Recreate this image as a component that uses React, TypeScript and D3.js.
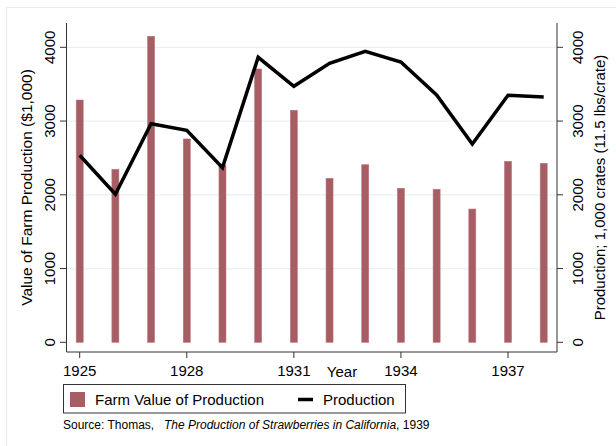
import React from "react";
import * as d3 from "d3";

const years = [1925, 1926, 1927, 1928, 1929, 1930, 1931, 1932, 1933, 1934, 1935, 1936, 1937, 1938];
const farmValue = [3285, 2346, 4149, 2757, 2404, 3706, 3146, 2224, 2408, 2088, 2075, 1807, 2454, 2427];
const production = [2536, 2007, 2964, 2875, 2368, 3864, 3471, 3783, 3946, 3800, 3353, 2689, 3349, 3326];
const yTicks = [0, 1000, 2000, 3000, 4000];
const xTicks = [1925, 1928, 1931, 1934, 1937];

const W = 616;
const H = 446;
const FONT = "Liberation Sans, Arial, sans-serif";
const BAR = "#a65d63";
const FS = 15;

export default function App() {
  const plotL = 66.5, plotR = 557, plotT = 23, plotB = 352;
  const x = d3.scaleLinear().domain([1925, 1938]).range([79.7, 543.7]);
  const y = d3.scaleLinear().domain([0, 4000]).range([342.3, 47.3]);
  const line = d3
    .line<number>()
    .x((_, i) => x(years[i]))
    .y((d) => y(d));
  const barW = 7;
  const midY = (plotT + plotB) / 2;

  return (
    <svg width={W} height={H} style={{ position: "absolute", left: 0, top: 0, background: "#fff" }} fontFamily={FONT}>
      <rect x={0} y={0} width={W} height={H} fill="#fff" />
      <rect x={6.5} y={7.5} width={W + 20} height={H + 20} fill="#fff" stroke="#e6ecee" strokeWidth={1} />
      {yTicks.filter((t) => t > 0).map((t) => (
        <line key={"g" + t} x1={plotL} x2={plotR} y1={y(t)} y2={y(t)} stroke="#e9f1f2" strokeWidth={1.2} />
      ))}
      {farmValue.map((v, i) => (
        <rect
          key={"b" + i}
          x={x(years[i]) - barW / 2}
          y={y(v)}
          width={barW}
          height={y(0) - y(v)}
          fill={BAR}
          stroke="#b9777d"
          strokeWidth={0.6}
        />
      ))}
      <path d={line(production) || ""} fill="none" stroke="#000" strokeWidth={3.5} strokeLinejoin="miter" strokeMiterlimit={10} />
      <line x1={plotL} x2={plotL} y1={plotT} y2={plotB} stroke="#333" strokeWidth={1} />
      <line x1={plotR} x2={plotR} y1={plotT} y2={plotB} stroke="#333" strokeWidth={1} />
      <line x1={plotL} x2={plotR} y1={plotB} y2={plotB} stroke="#333" strokeWidth={1} />
      {yTicks.map((t) => (
        <g key={"yt" + t}>
          <line x1={60} x2={plotL} y1={y(t)} y2={y(t)} stroke="#333" strokeWidth={1} />
          <text transform={`translate(55,${y(t)}) rotate(-90)`} textAnchor="middle" fontSize={FS} fill="#000">
            {t}
          </text>
          <line x1={plotR} x2={563} y1={y(t)} y2={y(t)} stroke="#333" strokeWidth={1} />
          <text transform={`translate(582.5,${y(t)}) rotate(-90)`} textAnchor="middle" fontSize={FS} fill="#000">
            {t}
          </text>
        </g>
      ))}
      {xTicks.map((t) => (
        <g key={"xt" + t}>
          <line x1={x(t)} x2={x(t)} y1={plotB} y2={358} stroke="#333" strokeWidth={1} />
          <text x={x(t)} y={376} textAnchor="middle" fontSize={FS} fill="#000">
            {t}
          </text>
        </g>
      ))}
      <text x={342} y={377} textAnchor="middle" fontSize={FS} fill="#000">Year</text>
      <text transform={`translate(31.5,${midY}) rotate(-90)`} textAnchor="middle" fontSize={15.5} fill="#000">
        Value of Farm Production ($1,000)
      </text>
      <text transform={`translate(605,${midY}) rotate(-90)`} textAnchor="middle" fontSize={FS} fill="#000">
        Production; 1,000 crates (11.5 lbs/crate)
      </text>
      <rect x={63.5} y={384.5} width={342} height={28.5} fill="#fff" stroke="#333" strokeWidth={1} />
      <rect x={70} y={392} width={15} height={15} fill={BAR} />
      <text x={95} y={405} fontSize={FS} fill="#000">Farm Value of Production</text>
      <line x1={298} x2={313} y1={399.5} y2={399.5} stroke="#000" strokeWidth={3.5} />
      <text x={323} y={405} fontSize={FS} fill="#000">Production</text>
      <text x={63} y={429} fontSize={12} fill="#000">
        <tspan>Source: Thomas,</tspan>
        <tspan fontStyle="italic" x={164}>The Production of Strawberries in California</tspan>
        <tspan>, 1939</tspan>
      </text>
    </svg>
  );
}
